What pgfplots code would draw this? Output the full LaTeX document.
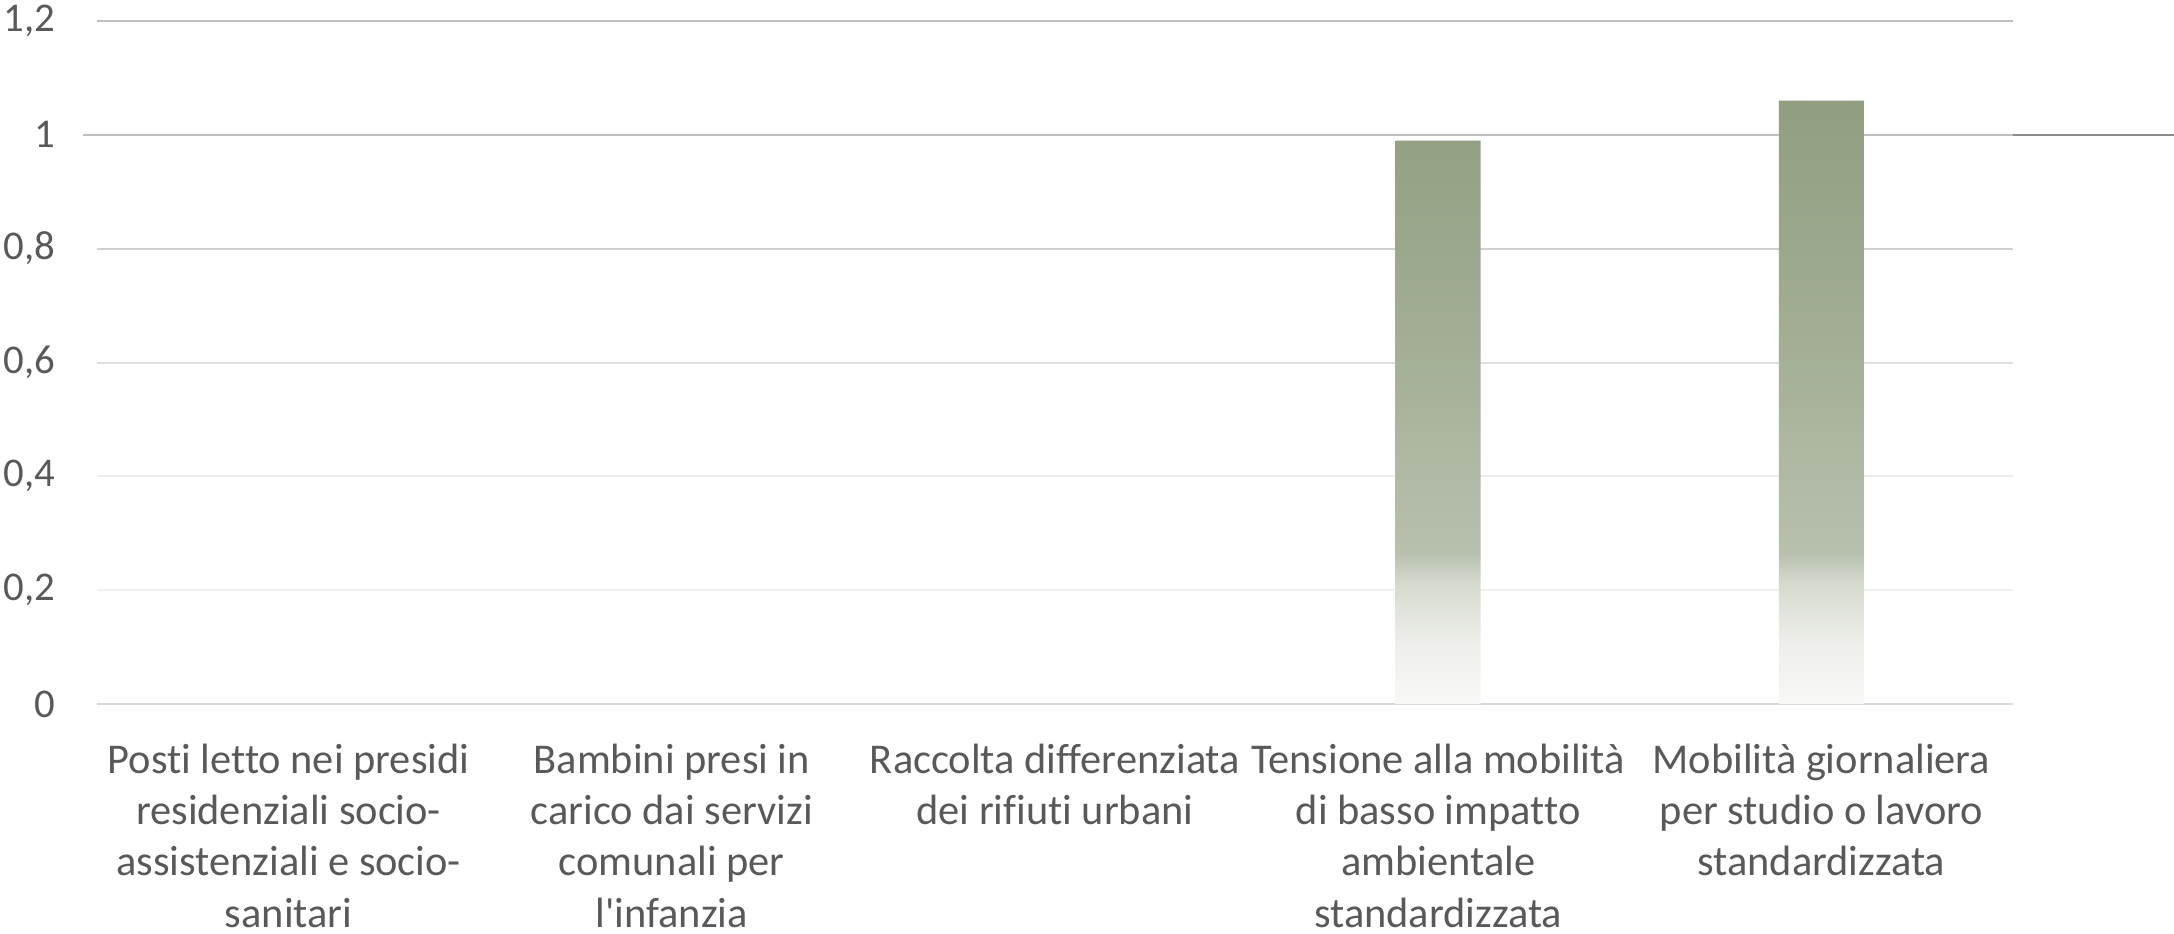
\documentclass[border=0pt]{standalone}
\usepackage{pgfplots}
\pgfplotsset{compat=1.18}
\usepackage{fontspec}
\setmainfont{Carlito}[Ligatures={TeXOff,CommonOff}]
\definecolor{ticktext}{HTML}{595959}
\definecolor{gA}{HTML}{BFBFBF}
\definecolor{gB}{HTML}{BFBFBF}
\definecolor{gC}{HTML}{D0D0D0}
\definecolor{gD}{HTML}{E0E0E0}
\definecolor{gE}{HTML}{EEEEEE}
\definecolor{gF}{HTML}{F0F0F0}
\definecolor{gZ}{HTML}{D9D9D9}
\definecolor{refline}{HTML}{8C8C8C}
\definecolor{s0}{HTML}{F8F8F6}
\definecolor{s1}{HTML}{EEEFEB}
\definecolor{s2}{HTML}{D5DACE}
\definecolor{s3}{HTML}{B8C0AE}
\definecolor{s4}{HTML}{A3AE95}
\definecolor{s5}{HTML}{919E80}
\pgfdeclareverticalshading{barfade}{100bp}{color(0bp)=(s0); color(25bp)=(s0); color(30bp)=(s1); color(35bp)=(s2); color(37.5bp)=(s3); color(55bp)=(s4); color(75bp)=(s5); color(100bp)=(s5)}
\begin{document}
\begin{tikzpicture}
\begin{axis}[
  at={(0,0)}, anchor=south west,
  scale only axis, width=479pt, height=170.75pt,
  xmin=-0.5, xmax=4.5, ymin=0, ymax=1.2,
  clip=false,
  axis line style={draw=none},
  major tick style={draw=none},
  /pgf/number format/assume math mode=true,
  ytick={0,0.2,0.4,0.6,0.8,1,1.2},
  yticklabels={0,{0,2},{0,4},{0,6},{0,8},1,{1,2}},
  yticklabel style={font=\fontsize{10.2}{12}\selectfont, text=ticktext, inner sep=0pt, anchor=east, xshift=-10.25pt},
  xtick={0,1,2,3,4},
  xticklabels={
    {Posti letto nei presidi\\residenziali socio-\\assistenziali e socio-\\sanitari},
    {Bambini presi in\\carico dai servizi\\comunali per\\l'infanzia},
    {Raccolta differenziata\\dei rifiuti urbani},
    {Tensione alla mobilità\\di basso impatto\\ambientale\\standardizzata},
    {Mobilità giornaliera\\per studio o lavoro\\standardizzata}},
  xticklabel style={font=\fontsize{10.6}{12.8}\selectfont, text=ticktext, align=center, inner sep=0pt, anchor=north, yshift=-9.8pt},
]
\addplot[forget plot, gA, line width=0.5pt] coordinates {(-0.5,1.2) (4.5,1.2)};
\addplot[forget plot, gB, line width=0.5pt] coordinates {(-0.5365,1) (4.5,1)};
\addplot[forget plot, gC, line width=0.5pt] coordinates {(-0.5,0.8) (4.5,0.8)};
\addplot[forget plot, gD, line width=0.5pt] coordinates {(-0.5,0.6) (4.5,0.6)};
\addplot[forget plot, gE, line width=0.5pt] coordinates {(-0.5,0.4) (4.5,0.4)};
\addplot[forget plot, gF, line width=0.5pt] coordinates {(-0.5,0.2) (4.5,0.2)};
\addplot[forget plot, gZ, line width=0.5pt] coordinates {(-0.5,0) (4.5,0)};
\addplot[ybar, bar width=21.25pt, draw=none, shade, shading=barfade, skip coords between index={0}{3}]
  coordinates {(0,0) (1,0) (2,0) (3,0.99) (4,1.06)};
\addplot[forget plot, refline, line width=0.45pt] coordinates {(4.5,1) (4.92,1)};
\end{axis}
\pgfresetboundingbox
\path[use as bounding box] (-24.25pt,-57.25pt) rectangle (519.25pt,176pt);
\end{tikzpicture}
\end{document}
